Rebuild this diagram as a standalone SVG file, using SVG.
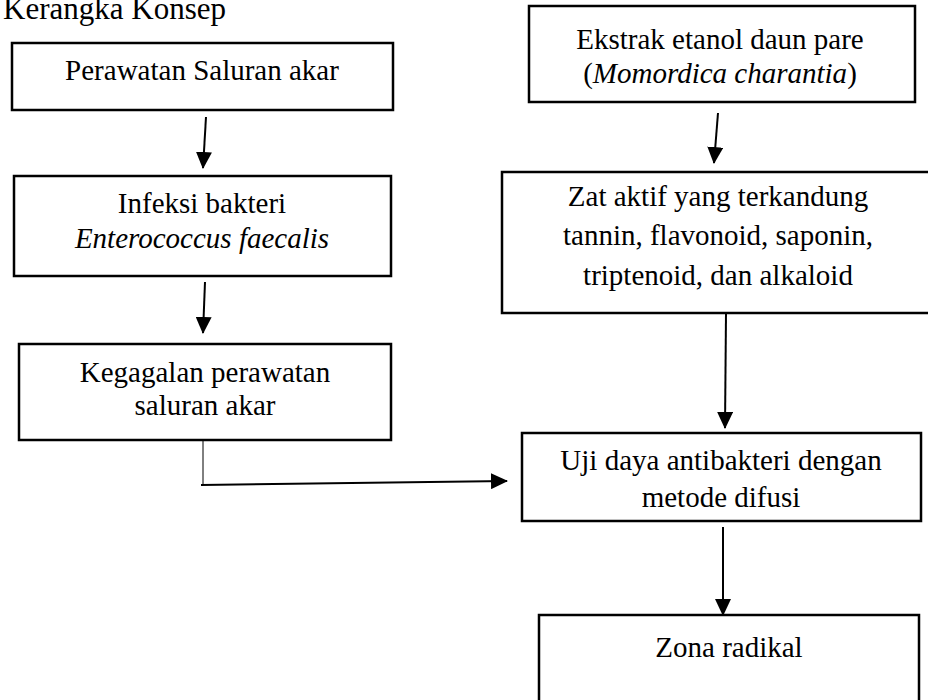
<svg xmlns="http://www.w3.org/2000/svg" width="928" height="700" viewBox="0 0 928 700">
<style>
.box{fill:#fff;stroke:#000;stroke-width:2.5}
.t{font-family:"Liberation Serif","Times New Roman",serif;font-size:29px;fill:#000;text-anchor:middle}
.ti{font-family:"Liberation Serif","Times New Roman",serif;font-size:31px;fill:#000}
.c{stroke:#000;stroke-width:2;fill:none}
.c1{stroke:#000;stroke-width:1;fill:none}
</style>
<defs>
<marker id="ah" markerUnits="userSpaceOnUse" markerWidth="18" markerHeight="16" refX="16" refY="8" orient="auto">
<path d="M0,0 L17,8 L0,16 Z" fill="#000"/>
</marker>
</defs>
<rect width="928" height="700" fill="#fff"/>
<text class="ti" x="3" y="19">Kerangka Konsep</text>
<g id="n1"><rect class="box" x="12" y="43" width="381" height="67"/><text class="t" x="202" y="80">Perawatan Saluran akar</text></g>
<g id="n2"><rect class="box" x="14" y="176" width="377" height="100"/><text class="t" x="202" y="213">Infeksi bakteri</text><text class="t" x="202" y="248" font-style="italic">Enterococcus faecalis</text></g>
<g id="n3"><rect class="box" x="19" y="344" width="372" height="96"/><text class="t" x="205" y="382">Kegagalan perawatan</text><text class="t" x="205" y="415">saluran akar</text></g>
<g id="n4"><rect class="box" x="529" y="6" width="386" height="96"/><text class="t" x="720" y="49">Ekstrak etanol daun pare</text><text class="t" x="720" y="83">(<tspan font-style="italic">Momordica charantia</tspan>)</text></g>
<g id="n5"><rect class="box" x="502" y="172" width="440" height="141"/><text class="t" x="718" y="206">Zat aktif yang terkandung</text><text class="t" x="718" y="245">tannin, flavonoid, saponin,</text><text class="t" x="718" y="285">triptenoid, dan alkaloid</text></g>
<g id="n6"><rect class="box" x="522" y="433" width="399" height="88"/><text class="t" x="721" y="470">Uji daya antibakteri dengan</text><text class="t" x="721" y="507">metode difusi</text></g>
<g id="n7"><rect class="box" x="539" y="615" width="380" height="100"/><text class="t" x="729" y="657">Zona radikal</text></g>
<g id="connectors">
<line class="c" x1="206" y1="117" x2="203" y2="168" marker-end="url(#ah)"/>
<line class="c" x1="205" y1="282" x2="203" y2="333" marker-end="url(#ah)"/>
<line class="c" x1="718" y1="113" x2="714" y2="163" marker-end="url(#ah)"/>
<line class="c" x1="726" y1="313" x2="725" y2="428" marker-end="url(#ah)"/>
<line class="c" x1="723" y1="527" x2="723" y2="615" marker-end="url(#ah)"/>
<line class="c1" x1="203" y1="440" x2="203" y2="485"/>
<line class="c" x1="201" y1="485" x2="507" y2="481" marker-end="url(#ah)"/>
</g>
</svg>
